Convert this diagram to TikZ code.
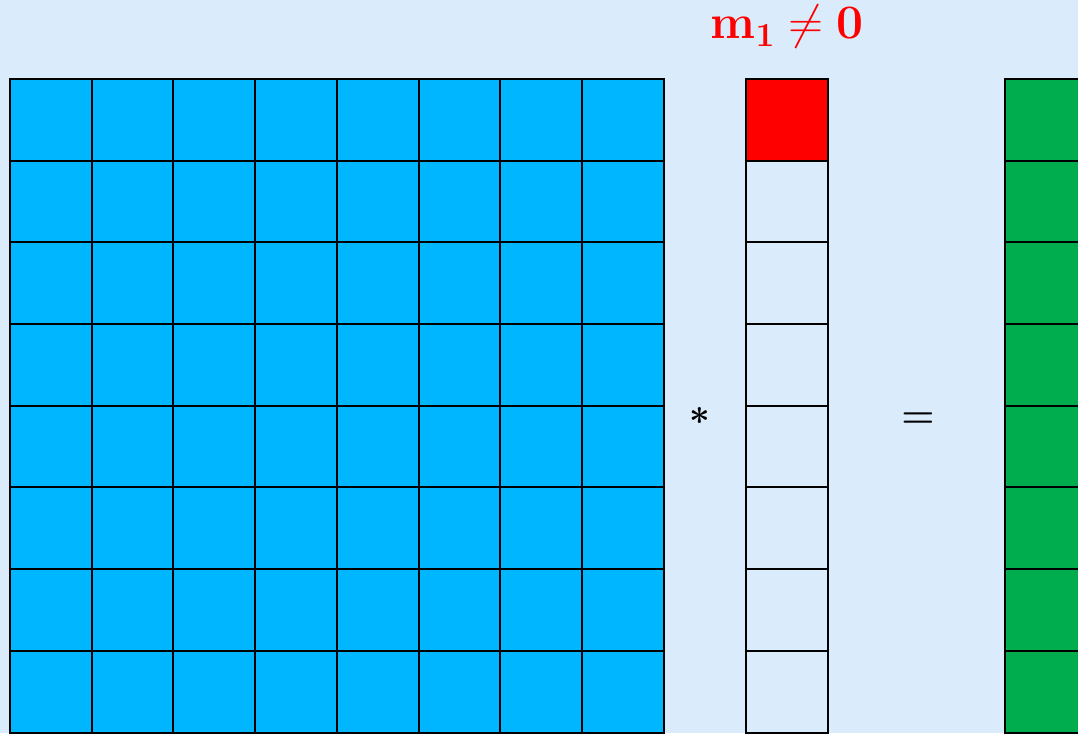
\documentclass[tikz,border=0pt]{standalone}
\usepackage{fix-cm}
\usepackage{amsmath, amssymb}
\usepackage{tikz}
\usetikzlibrary{positioning}
\definecolor{paleblue}{RGB}{218,236,252}
\definecolor{cyanfill}{RGB}{0,183,255}
\definecolor{greenfill}{RGB}{0,173,78}
\definecolor{redfill}{RGB}{255,0,0}

\begin{document}
\begin{tikzpicture}[x=1pt, y=1pt,
    cell/.style={rectangle, draw=black, line width=2pt, minimum size=81.7pt,
                 inner sep=0pt, outer sep=0pt},
    op/.style={text=black, inner sep=0pt}
  ]
  \useasboundingbox[fill=paleblue] (0,0) rectangle (1078,733);
  \clip (0,0) rectangle (1078,733);

  % --- 8x8 matrix ---
  \foreach \i in {1,...,8} \foreach \j in {1,...,8} {
      \node[cell, fill=cyanfill] (a\i\j) at ({10+81.7*(\j-0.5)},{654-81.7*(\i-0.5)}) {};
  }

  % --- vector m, first entry nonzero ---
  \foreach \i in {1,...,8} {
      \node[cell, fill=paleblue] (m\i) at (787,{654-81.7*(\i-0.5)}) {};
  }
  \node[cell, fill=redfill] at (m1) {};
  \node[text=redfill, font=\fontsize{48}{48}\selectfont, anchor=base]
       (lab) at (787,694) {$\mathbf{m}_{\mathbf{1}} \neq \mathbf{0}$};

  % --- result column ---
  \foreach \i in {1,...,8} {
      \node[cell, fill=greenfill] (r\i) at (1045.85,{654-81.7*(\i-0.5)}) {};
  }

  % operators
  \node[op, font=\fontsize{36}{36}\selectfont] (times) at (700,317) {$\boldsymbol{\ast}$};
  \node[op, font=\fontsize{38}{38}\selectfont] (eq) at (918,313) {$\boldsymbol{=}$};
\end{tikzpicture}
\end{document}
